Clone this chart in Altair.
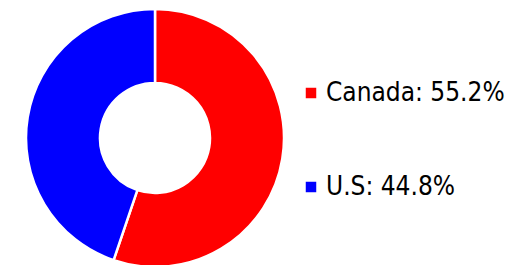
import altair as alt
import pandas as pd

countries = ["Canada", "U.S"]
shares = [55.2, 44.8]
colors = ["#ff0000", "#0000ff"]

labels = [f"{c}: {s}%" for c, s in zip(countries, shares)]
df = pd.DataFrame({"label": labels, "share": shares, "order": [0, 1]})

chart = (
    alt.Chart(df)
    .mark_arc(radius=129, innerRadius=55, stroke="white", strokeWidth=2.5)
    .encode(
        theta=alt.Theta("share:Q", stack=True),
        order=alt.Order("order:Q"),
        x=alt.value(147),
        y=alt.value(130),
        color=alt.Color(
            "label:N",
            scale=alt.Scale(domain=labels, range=colors),
            legend=alt.Legend(
                title=None,
                orient="none",
                legendX=290,
                legendY=72,
                symbolType="square",
                symbolSize=110,
                symbolStrokeWidth=0,
                labelFont="DejaVu Sans Condensed, Roboto Condensed, Liberation Sans Narrow, Arial Narrow, sans-serif",
                labelFontSize=26,
                labelColor="#000000",
                labelOffset=2,
                rowPadding=68,
                labelLimit=400,
            ),
        ),
    )
    .properties(width=497, height=257, padding=0, autosize="none")
    .configure_view(stroke=None)
)

chart.save("out.html", embed_options={"renderer": "svg", "actions": False})
